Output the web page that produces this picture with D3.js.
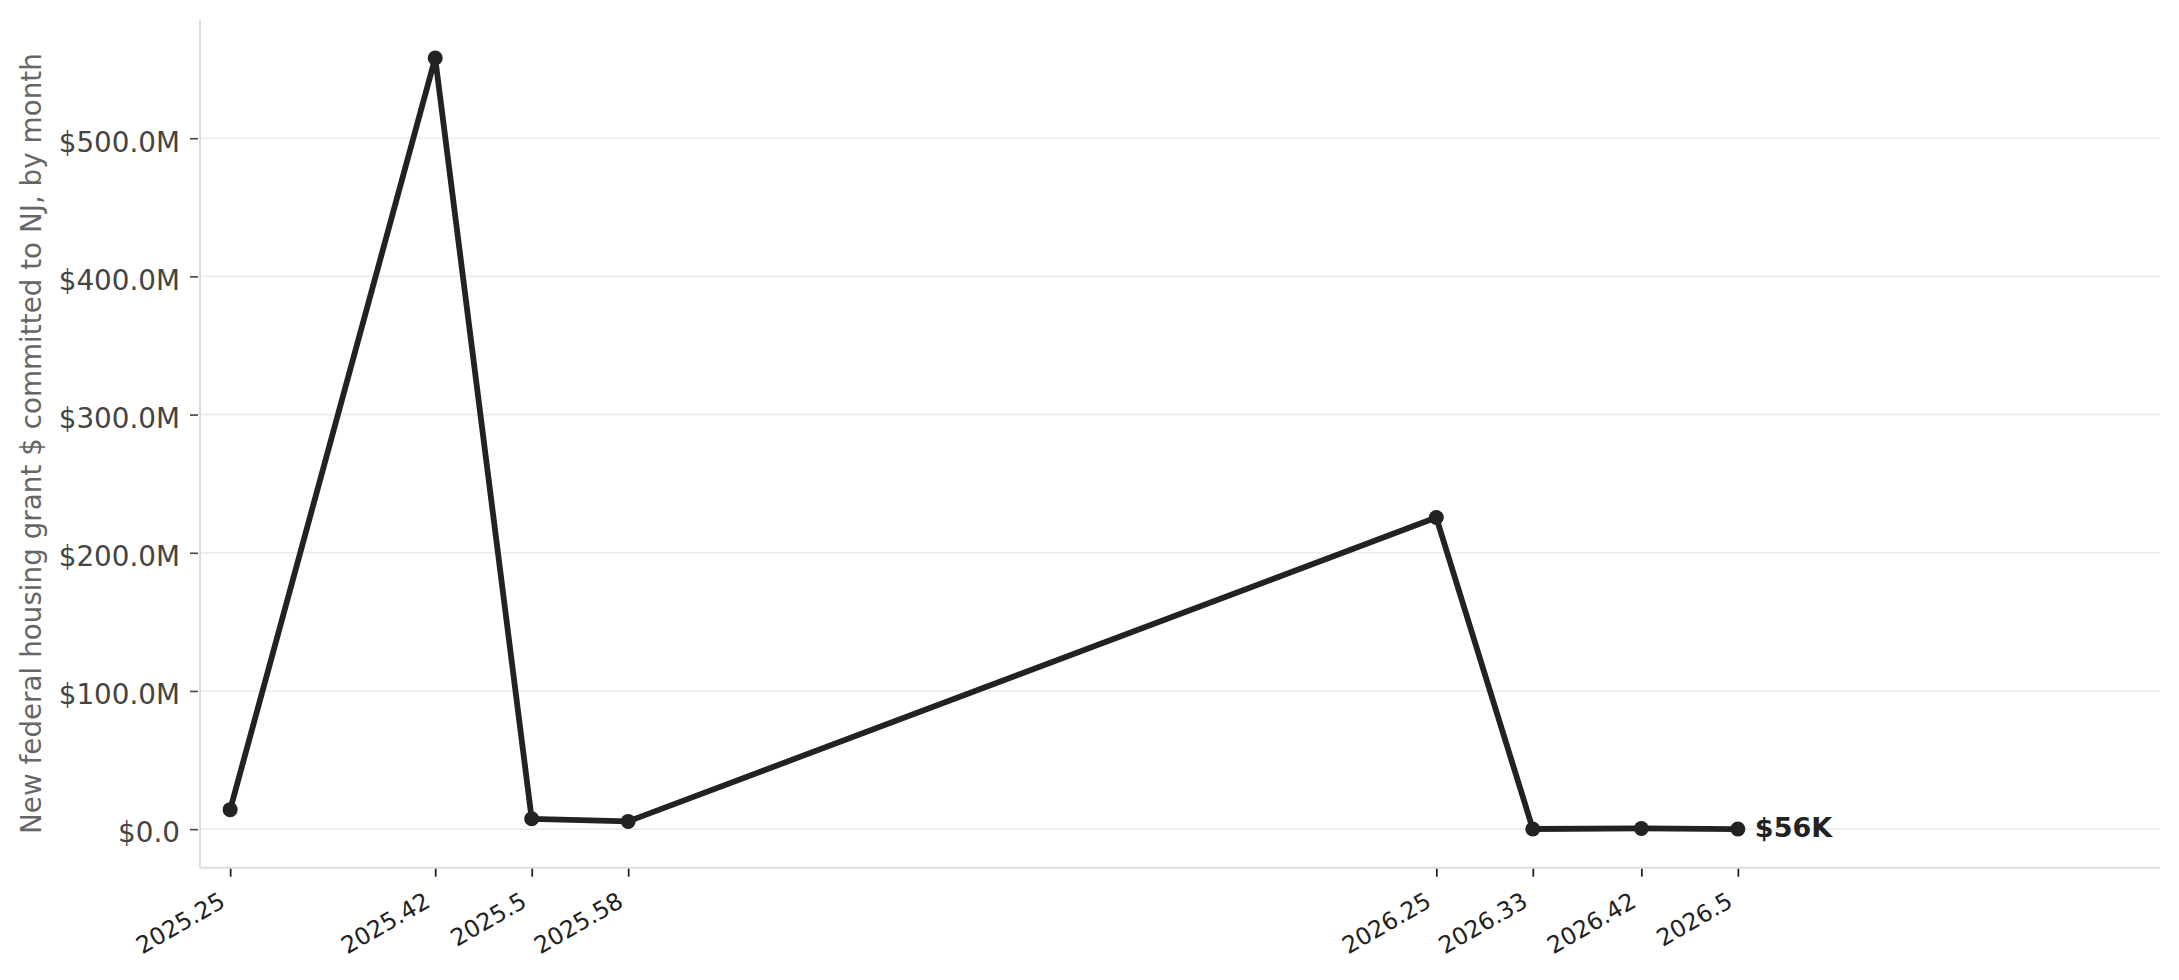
<!DOCTYPE html>
<html>
<head>
<meta charset="utf-8">
<script src="https://cdn.jsdelivr.net/npm/d3@7"></script>
<style>
  body { margin: 0; background: #fff; }
  text { font-family: "DejaVu Sans", sans-serif; }
</style>
</head>
<body>
<div id="chart"></div>
<script>
// months as the decimal year values printed on the axis
var months = [2025.25, 2025.42, 2025.5, 2025.58,
              2026.25, 2026.33, 2026.42, 2026.5];
var tickLabels = ['2025.25', '2025.42', '2025.5', '2025.58',
                  '2026.25', '2026.33', '2026.42', '2026.5'];
// new grant dollars committed that month
var amounts = [14.1e6, 558e6, 7.5e6, 5.6e6, 225.5e6, 0.1e6, 0.5e6, 56e3];
var yTicks = [0, 100e6, 200e6, 300e6, 400e6, 500e6];
var lastLabel = '$56K';

var width = 2179, height = 980;
var plotLeft = 200, plotRight = 2160, plotTop = 19.5, plotBottom = 867.7;

var svg = d3.select('#chart').append('svg')
  .attr('width', width)
  .attr('height', height);

var x = d3.scaleLinear()
  .domain([2025.225, 2026.85])
  .range([plotLeft, plotRight]);

var ymax = d3.max(amounts), ymin = 0;
var pad = (ymax - ymin) * 0.05;
var y = d3.scaleLinear()
  .domain([ymin - pad, ymax + pad])
  .range([plotBottom, plotTop]);

// grid
svg.append('g')
  .selectAll('line')
  .data(yTicks)
  .enter().append('line')
  .attr('x1', plotLeft)
  .attr('x2', plotRight)
  .attr('y1', function (d) { return y(d); })
  .attr('y2', function (d) { return y(d); })
  .attr('stroke', '#ebebeb')
  .attr('stroke-width', 1.6);

// y axis
var yAxis = svg.append('g')
  .attr('transform', 'translate(' + plotLeft + ',0)')
  .call(d3.axisLeft(y)
    .tickValues(yTicks)
    .tickSize(8)
    .tickPadding(12)
    .tickFormat(function (d) { return '$' + (d / 1e6).toFixed(1) + (d === 0 ? '' : 'M'); }));
yAxis.select('.domain').remove();
yAxis.selectAll('.tick line')
  .attr('transform', 'translate(-2,0)')
  .attr('stroke', '#444')
  .attr('stroke-width', 1.6);
yAxis.selectAll('.tick text')
  .attr('fill', '#444')
  .attr('font-size', 27.8)
  .attr('dy', '0.46em')
  .style('font-family', '"DejaVu Sans", sans-serif');

// x axis
var xAxis = svg.append('g')
  .attr('transform', 'translate(0,' + plotBottom + ')')
  .call(d3.axisBottom(x)
    .tickValues(months)
    .tickSize(9)
    .tickFormat(function (d, i) { return tickLabels[i]; }));
xAxis.select('.domain').remove();
xAxis.selectAll('.tick line')
  .attr('stroke', '#222')
  .attr('stroke-width', 1.8);
xAxis.selectAll('.tick text')
  .attr('fill', '#222')
  .attr('font-size', 23.6)
  .attr('y', 0)
  .attr('dy', 0)
  .attr('text-anchor', 'end')
  .attr('transform', 'translate(-4,38) rotate(-30)')
  .style('font-family', '"DejaVu Sans", sans-serif');

// spines
svg.append('line')
  .attr('x1', plotLeft).attr('x2', plotLeft)
  .attr('y1', plotTop).attr('y2', plotBottom)
  .attr('stroke', '#dcdcdc')
  .attr('stroke-width', 2);
svg.append('line')
  .attr('x1', plotLeft).attr('x2', plotRight)
  .attr('y1', plotBottom).attr('y2', plotBottom)
  .attr('stroke', '#dcdcdc')
  .attr('stroke-width', 2);

// y label
svg.append('text')
  .attr('transform', 'translate(41,' + ((plotTop + plotBottom) / 2) + ') rotate(-90)')
  .attr('text-anchor', 'middle')
  .attr('font-size', 27.8)
  .attr('fill', '#666')
  .text('New federal housing grant $ committed to NJ, by month');

// line + points
var line = d3.line()
  .x(function (d, i) { return x(months[i]); })
  .y(function (d) { return y(d); });

svg.append('path')
  .datum(amounts)
  .attr('d', line)
  .attr('fill', 'none')
  .attr('stroke', '#222')
  .attr('stroke-width', 5.8)
  .attr('stroke-linejoin', 'round');

svg.append('g')
  .selectAll('circle')
  .data(amounts)
  .enter().append('circle')
  .attr('cx', function (d, i) { return x(months[i]); })
  .attr('cy', function (d) { return y(d); })
  .attr('r', 7.5)
  .attr('fill', '#222');

// last value label
var n = amounts.length - 1;
svg.append('text')
  .attr('x', x(months[n]) + 17)
  .attr('y', y(amounts[n]) + 8)
  .attr('font-size', 27)
  .attr('font-weight', 'bold')
  .attr('fill', '#222')
  .text(lastLabel);
</script>
</body>
</html>
